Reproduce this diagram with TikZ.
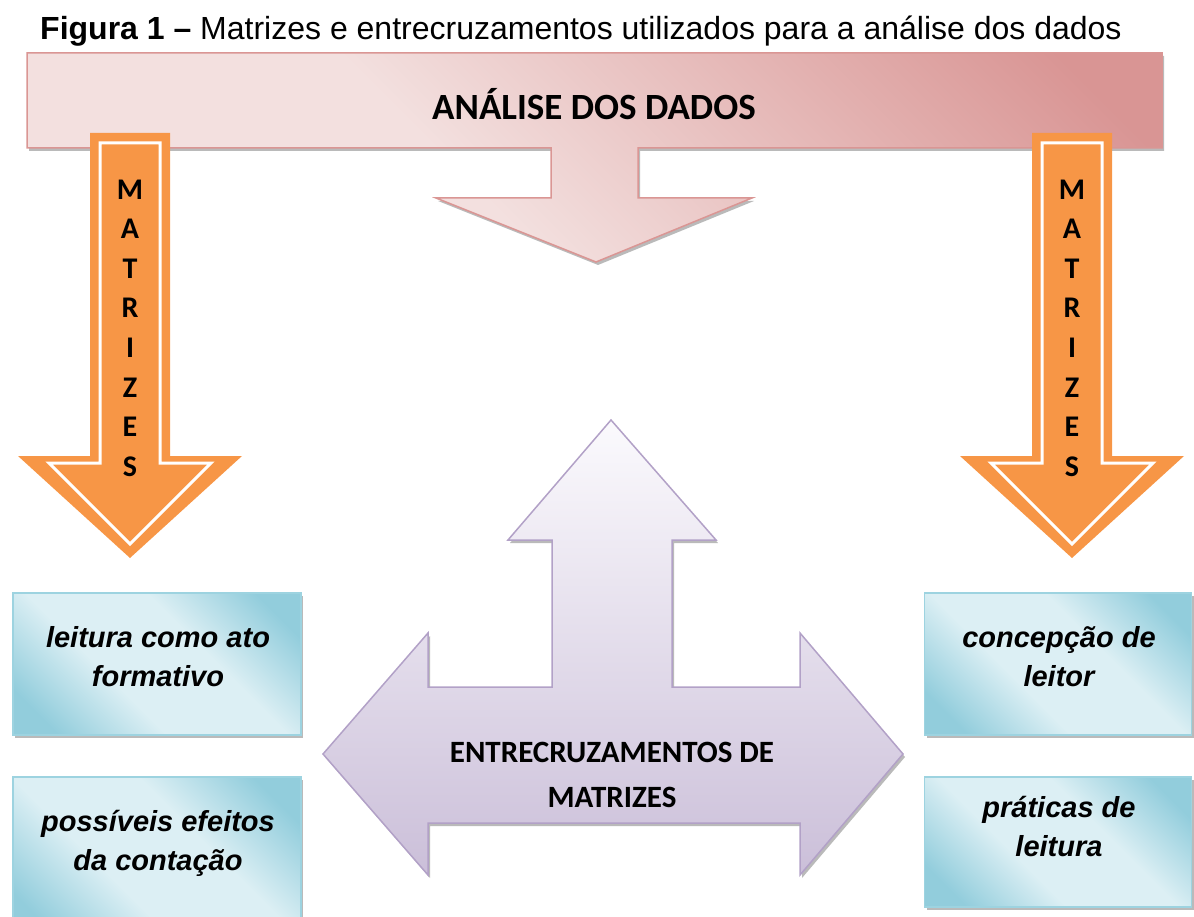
\documentclass[tikz,border=0pt]{standalone}
\usepackage{fontspec}
\setmainfont{Liberation Sans}
\newfontfamily\calibri{Carlito}
\usetikzlibrary{shadows}

\definecolor{pinklight}{HTML}{F3E0DF}
\definecolor{pinkdark}{HTML}{D99594}
\definecolor{pinkline}{HTML}{DA9694}
\definecolor{orangefill}{HTML}{F79646}
\definecolor{bluelight}{HTML}{DCEFF4}
\definecolor{bluedark}{HTML}{92CDDC}
\definecolor{blueline}{HTML}{9DD3E0}
\definecolor{purplelight}{HTML}{FBFAFD}
\definecolor{purpledark}{HTML}{CBBFD9}
\definecolor{purpleline}{HTML}{B2A1C7}

\pgfdeclareverticalshading{bannershade}{100bp}{color(0bp)=(pinklight); color(42bp)=(pinklight); color(80bp)=(pinkdark); color(100bp)=(pinkdark)}
\pgfdeclareverticalshading{boxshade}{100bp}{color(0bp)=(bluedark); color(22bp)=(bluedark); color(40bp)=(bluelight); color(60bp)=(bluelight); color(78bp)=(bluedark); color(100bp)=(bluedark)}

\begin{document}
\begin{tikzpicture}[x=1pt, y=-1pt,
soft_shadow/.style={drop shadow={shadow xshift=2pt, shadow yshift=-3pt, fill=black!45, opacity=0.6}},
banner/.style={draw=pinkline, line width=1.5pt, shade, shading=bannershade, shading angle=-45, soft_shadow},
orange_arrow/.style={fill=orangefill},
orange_inner/.style={draw=white, line width=3pt, fill=orangefill},
cross_arrow/.style={draw=purpleline, line width=1.5pt, top color=purplelight, bottom color=purpledark, soft_shadow},
blue_box/.style={rectangle, draw=blueline, line width=1.5pt, shade, shading=boxshade, shading angle=-45, minimum width=288pt, minimum height=142pt, soft_shadow},
box_text/.style={align=center, font=\fontsize{29}{39}\selectfont\bfseries\itshape},
letter/.style={font=\calibri\bfseries\fontsize{30}{30}\selectfont, text height=19pt, text depth=0pt, inner sep=0pt},
big_label/.style={font=\calibri\bfseries\fontsize{31}{45}\selectfont, align=center}
]
\useasboundingbox (0,0) rectangle (1194,917);

% title
\node[anchor=base west, inner sep=0pt, font=\fontsize{32}{32}\selectfont](title) at (40,40) {\textbf{Figura 1 –} Matrizes e entrecruzamentos utilizados para a análise dos dados};

% banner with arrow pointing down
\path[banner] (27,53) -- (1162,53) -- (1162,148) -- (638,148) -- (638,198) -- (752,198)
  -- (596,262) -- (436,198) -- (551,198) -- (551,148) -- (27,148) -- cycle;
\node[big_label, font=\calibri\bfseries\fontsize{37}{37}\selectfont](analise) at (594,104) {ANÁLISE DOS DADOS};

% orange arrows
\foreach \cx/\side in {130/left, 1072/right} {
  \path[orange_arrow] (\cx-40,133) -- (\cx+40,133) -- (\cx+40,456) -- (\cx+112,456)
    -- (\cx,558) -- (\cx-112,456) -- (\cx-40,456) -- cycle;
  \path[orange_inner] (\cx-30,143) -- (\cx+30,143) -- (\cx+30,463) -- (\cx+81,463)
    -- (\cx,544) -- (\cx-81,463) -- (\cx-30,463) -- cycle;
  \foreach \letter [count=\i] in {M,A,T,R,I,Z,E,S}
    \node[letter](matrizes_\side_\i) at (\cx,150+39.6*\i) {\letter};
}

% crossing arrow
\path[cross_arrow] (611,420) -- (716,540) -- (672,540) -- (672,687) -- (800,687) -- (800,633)
  -- (903,754) -- (800,875) -- (800,823) -- (428,823) -- (428,875) -- (323,754)
  -- (428,633) -- (428,687) -- (552,687) -- (552,540) -- (508,540) -- cycle;
\node[big_label](entrecruzamentos) at (612,775) {ENTRECRUZAMENTOS DE\\MATRIZES};

% boxes
\node[blue_box](leitura) at (157,664) {};
\node[blue_box, minimum height=164pt](efeitos) at (157,859) {};
\node[blue_box, minimum width=267pt](concepcao) at (1058,664) {};
\node[blue_box, minimum width=267pt, minimum height=130pt](praticas) at (1058,842) {};

\node[box_text](leitura_text) at (158,657) {leitura como ato\\formativo};
\node[box_text](efeitos_text) at (158,843) {possíveis efeitos\\da contação};
\node[box_text](concepcao_text) at (1059,657) {concepção de\\leitor};
\node[box_text](praticas_text) at (1059,827) {práticas de\\leitura};

\end{tikzpicture}
\end{document}
